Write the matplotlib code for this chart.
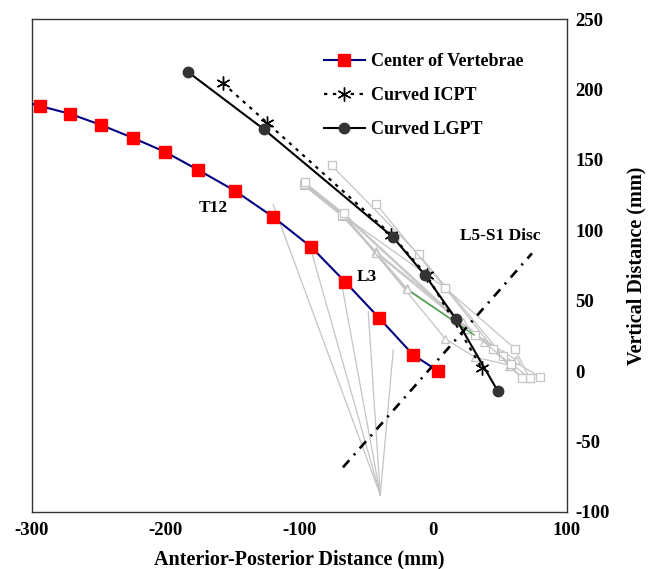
import matplotlib
matplotlib.use("Agg")
import matplotlib.pyplot as plt

# ---------------- data ----------------
center_x = [-318, -293.8, -271.4, -248.2, -224.3, -200.4, -175.7, -148.0, -119.6, -91.2, -65.8, -40.4, -15.0, 3.7]
center_y = [194.5, 188.2, 182.6, 174.7, 165.5, 155.6, 142.8, 127.9, 109.4, 88.1, 63.3, 37.7, 11.5, 0.1]

icpt_x = [-157.2, -124.3, -31.5, -5.0, 36.4]
icpt_y = [204.4, 176.4, 97.0, 68.3, 2.0]

lgpt_x = [-183.4, -126.6, -30.4, -6.0, 17.2, 48.1]
lgpt_y = [212.4, 171.7, 95.4, 68.0, 36.8, -13.9]

# fan of gray lines (apex and upper ends)
fan_apex = (-39.6, -87.9)
fan_top_x = [-119.6, -92.0, -69.5, -48.6, -29.9]
fan_top_y = [118.0, 88.1, 67.1, 42.0, 15.0]

# gray individual paths (triangle markers)
tri_path_1 = [(-97, 133), (-68, 111), (-43, 85), (22, 35), (57, 4)]
tri_path_2 = [(-97, 134), (-68, 112), (-20, 59), (31, 26), (72, -5)]
tri_path_3 = [(-97, 132), (-68, 110), (-43, 84), (38, 21), (66, -4)]
tri_path_4 = [(-96, 133), (-67, 111), (9, 23), (31, 10), (58, 4)]
tri_path_5 = [(-68, 111), (-20, 58), (46, 16), (52, 12)]
tri_path_6 = [(-97, 133), (-66, 110), (25, 30), (62, 8)]
# gray individual paths (square markers)
sq_path_1 = [(-76, 146), (-11, 83), (52, 11), (80, -4)]
sq_path_2 = [(-43, 119), (9, 59), (61, 16), (72, -5)]
sq_path_3 = [(-97, 133), (-68, 111), (9, 59), (45, 16), (66, -5)]
sq_path_4 = [(-96, 134), (-67, 112), (31, 26), (58, 5)]

green_x = [-15.9, 30.7]
green_y = [55.7, 25.6]

disc_x = [-67.5, 73.8]
disc_y = [-68.3, 83.6]

x_ticks = [-300, -200, -100, 0, 100]
y_ticks = [-100, -50, 0, 50, 100, 150, 200, 250]

labels = [("T12", -164.5, 115.8), ("L3", -50.0, 67.0), ("L5-S1 Disc", 50.1, 95.9)]

# ---------------- plot ----------------
plt.rcParams['font.family'] = ['Liberation Serif', 'DejaVu Serif']
plt.rcParams['font.weight'] = 'bold'
plt.rcParams['axes.unicode_minus'] = False

fig = plt.figure(figsize=(6.5, 5.69), dpi=100)
ax = fig.add_axes([32/650, 57/569, 535/650, 493/569])

gray = '#c4c4c4'
for tx, ty in zip(fan_top_x, fan_top_y):
    ax.plot([fan_apex[0], tx], [fan_apex[1], ty], color=gray, lw=0.9, zorder=1)

for p in [tri_path_1, tri_path_2, tri_path_3, tri_path_4, tri_path_5, tri_path_6]:
    xs, ys = zip(*p)
    ax.plot(xs, ys, color=gray, lw=0.9, marker='^', ms=6, mfc='white',
            mec=gray, mew=0.9, zorder=2)
for p in [sq_path_1, sq_path_2, sq_path_3, sq_path_4]:
    xs, ys = zip(*p)
    ax.plot(xs, ys, color=gray, lw=0.9, marker='s', ms=6, mfc='white',
            mec=gray, mew=0.9, zorder=2)

ax.plot(green_x, green_y, color='#2a9a2a', lw=0.8, zorder=3)

ax.plot(disc_x, disc_y, color='black', lw=1.9, dashes=(3.6, 2.6, 0.8, 2.6), zorder=3)

ax.plot(center_x, center_y, color='#000080', lw=1.5, marker='s', ms=8,
        mfc='#ff0000', mec='#ff0000', zorder=5, label='Center of Vertebrae')
ax.plot(icpt_x, icpt_y, color='black', lw=1.6, linestyle=(0, (1.5, 2.5)),
        marker=(6, 2, 0), ms=10, mec='black', mew=1.0, zorder=5, label='Curved ICPT')
ax.plot(lgpt_x, lgpt_y, color='black', lw=1.5, marker='o', ms=7.5,
        mfc='#333333', mec='#333333', zorder=6, label='Curved LGPT')

for txt, x, y in labels:
    ax.text(x, y, txt, fontsize=12.5, fontweight='bold', ha='center', va='center', zorder=7)

ax.set_xlim(-300, 100)
ax.set_ylim(-100, 250)
ax.set_xticks(x_ticks)
ax.set_yticks(y_ticks)
ax.yaxis.tick_right()
ax.yaxis.set_label_position('right')
ax.tick_params(axis='both', length=0, labelsize=13.5)
ax.tick_params(axis='x', pad=7)
ax.tick_params(axis='y', pad=6)
for lab in ax.get_xticklabels() + ax.get_yticklabels():
    lab.set_fontweight('bold')

ax.set_xlabel('Anterior-Posterior Distance (mm)', fontsize=14.5, fontweight='bold', labelpad=8)
ax.set_ylabel('Vertical Distance (mm)', fontsize=14.5, fontweight='bold', labelpad=12,
              rotation=90)

for s in ax.spines.values():
    s.set_color('#333333')
    s.set_linewidth(1.0)

leg = ax.legend(loc='upper left', bbox_to_anchor=(0.545, 0.931), frameon=False,
                handlelength=2.3, handletextpad=0.35, labelspacing=0.95,
                borderpad=0, borderaxespad=0, prop={'weight': 'bold', 'size': 13})

fig.savefig('out.png', dpi=100)
